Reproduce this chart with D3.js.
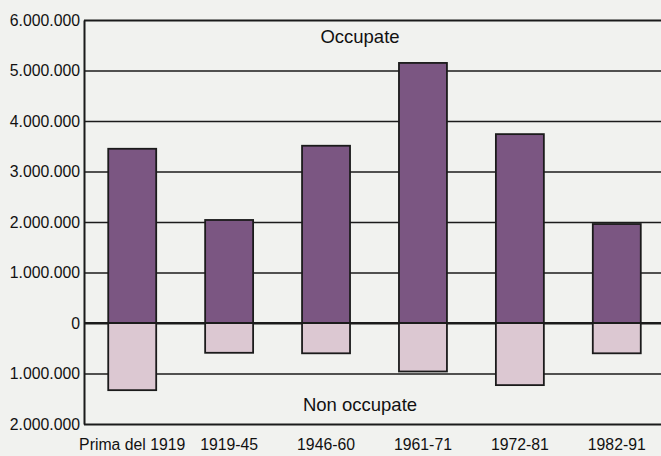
<!DOCTYPE html>
<html>
<head>
<meta charset="utf-8">
<script src="https://cdn.jsdelivr.net/npm/d3@7"></script>
<style>
  body { margin: 0; background: #f1f2ef; }
  svg { display: block; font-family: 'Liberation Sans', Arial, sans-serif; }
</style>
</head>
<body>
<div id="chart"></div>
<script>
const categories = ['Prima del 1919', '1919-45', '1946-60', '1961-71', '1972-81', '1982-91'];
const occupate = [3450000, 2040000, 3510000, 5150000, 3740000, 1960000];
const nonOccupate = [1330000, 590000, 600000, 960000, 1230000, 600000];
const yTicks = [6000000, 5000000, 4000000, 3000000, 2000000, 1000000, 0, -1000000, -2000000];
const seriesLabels = ['Occupate', 'Non occupate'];

(function () {
  const width = 661,
    height = 456,
    margin = { top: 20, right: 0, bottom: 32, left: 84 },
    chartWidth = width - margin.left - margin.right,
    chartHeight = height - margin.top - margin.bottom;

  const it = d3.formatLocale({ decimal: ',', thousands: '.', grouping: [3], currency: ['', ''] });
  const fmt = it.format(',d');

  const x = d3
    .scaleBand()
    .domain(categories)
    .range([0, chartWidth + 4])
    .paddingInner(0.505)
    .paddingOuter(0.25);

  const y = d3.scaleLinear().domain([-2000000, 6000000]).range([chartHeight, 0]);

  const svg = d3
    .select('#chart')
    .append('svg')
    .attr('width', width)
    .attr('height', height);

  const chart = svg
    .append('g')
    .attr('transform', `translate(${margin.left}, ${margin.top})`);

  // gridlines + y labels
  const yAxis = d3
    .axisLeft(y)
    .tickValues(yTicks)
    .tickSizeInner(-chartWidth)
    .tickSizeOuter(0)
    .tickPadding(4)
    .tickFormat(d => fmt(Math.abs(d)));

  const yg = chart.append('g').attr('class', 'y axis').call(yAxis);
  yg.select('.domain').attr('stroke', '#1b1b1b').attr('stroke-width', 2);
  yg.selectAll('.tick line')
    .attr('stroke', '#1b1b1b')
    .attr('stroke-width', d => (d === 0 || d === 6000000 || d === -2000000 ? 2.2 : 1.4));
  yg.selectAll('.tick text')
    .attr('fill', '#111')
    .style('font-size', '15.8px');

  // bars
  const bar = chart
    .selectAll('.bar')
    .data(categories)
    .enter()
    .append('g')
    .attr('class', 'bar');

  bar
    .append('rect')
    .attr('x', d => x(d))
    .attr('width', x.bandwidth())
    .attr('y', (d, i) => y(occupate[i]))
    .attr('height', (d, i) => y(0) - y(occupate[i]))
    .attr('fill', '#7b5682')
    .attr('stroke', '#1b1b1b')
    .attr('stroke-width', 1.8);

  bar
    .append('rect')
    .attr('x', d => x(d))
    .attr('width', x.bandwidth())
    .attr('y', y(0))
    .attr('height', (d, i) => y(-nonOccupate[i]) - y(0))
    .attr('fill', '#dcc8d2')
    .attr('stroke', '#1b1b1b')
    .attr('stroke-width', 1.8);

  // zero line on top
  chart
    .append('line')
    .attr('x1', 0)
    .attr('x2', chartWidth)
    .attr('y1', y(0))
    .attr('y2', y(0))
    .attr('stroke', '#1b1b1b')
    .attr('stroke-width', 2.2);

  // category labels
  const xAxis = d3.axisBottom(x).tickSize(0).tickPadding(15);
  const xg = chart
    .append('g')
    .attr('class', 'x axis')
    .attr('transform', `translate(0, ${chartHeight})`)
    .call(xAxis);
  xg.select('.domain').remove();
  xg.selectAll('.tick text')
    .attr('fill', '#111')
    .style('font-size', '15.8px');

  // series labels
  chart
    .append('text')
    .attr('x', 276)
    .attr('y', y(5550000))
    .attr('text-anchor', 'middle')
    .attr('fill', '#111')
    .style('font-size', '18.5px')
    .text(seriesLabels[0]);

  chart
    .append('text')
    .attr('x', 276)
    .attr('y', y(-1740000))
    .attr('text-anchor', 'middle')
    .attr('fill', '#111')
    .style('font-size', '18.5px')
    .text(seriesLabels[1]);
})();
</script>
</body>
</html>
